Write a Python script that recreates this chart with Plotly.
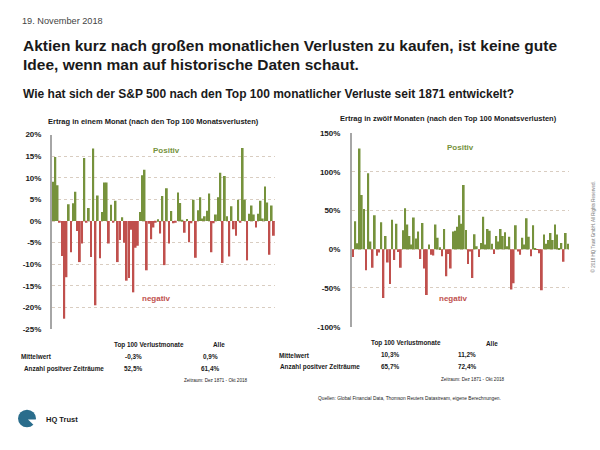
import plotly.graph_objects as go

# ---------------- data ----------------
monthly_returns = [
    9.1, 14.8, 8.3, -0.3, -8.1, -22.6, -13.0, 3.9, -7.2, 4.1,
    6.8, -2.3, -9.5, -5.2, 14.6, -0.2, 3.0, -8.3, 16.8, -19.5,
    5.9, -8.6, 2.1, 8.9, 8.9, -5.2, 3.8, -0.2, 4.7, -9.5,
    -4.4, 0.9, -5.0, -13.8, -13.2, -2.0, -16.5, -6.2, -5.7, 2.1,
    10.6, 11.9, -11.4, -0.6, -4.2, -1.5, -0.3, 0.4, -2.9, 5.8,
    -10.2, 7.6, -5.2, 2.3, -0.5, -0.3, 6.6, 4.2, 0.3, -2.7,
    0.5, -4.9, -0.5, 4.9, -8.5, 2.5, 5.5, 0.6, 1.1, 2.4,
    6.4, -7.2, -0.5, 1.5, 5.5, 11.2, -9.7, 10.4, 1.1, -8.2,
    3.4, -1.9, -3.4, 4.9, -0.2, 16.9, 4.9, -9.1, 1.7, 3.6,
    1.5, -1.5, 1.7, 4.7, 0.6, 8.0, 4.3, -7.8, 3.6, -3.4,
]
annual_returns = [
    -10, 36, 7.6, 130, 70, 52, -27, 98, 10, -24,
    44, -8.5, -4.2, 35, -63, 17, -17, -45, 38, -14,
    33, -3.4, -24, 24.6, 53, 32, 17, 6, 41, 14,
    23, -12.7, 34, -25, -59, 6, -7, -8, 32, 15,
    2.5, -9, 26, -35, -6, -25, 23, 24, 29, 44,
    33, 83, 25, -19, -3, -37, 19.5, 4, -10, 8,
    42, 6, 26, 24, 7, -6, 17, 10, 26, 17,
    22, 4, 16, -52, -44, 31, -3, -7, 15, 6,
    40, 16, -9, 31, 1, -0.5, -5, -53, 19, 7,
    12, 21, 12, 32, 19, 1, 8, -16, 21, 7,
]
left_tickvals = [20, 15, 10, 5, 0, -5, -10, -15, -20, -25]
left_ticktext = ["20%", "15%", "10%", "5%", "0%", "-5%", "-10%", "-15%", "-20%", "-25%"]
right_tickvals = [150, 100, 50, 0, -50, -100]
right_ticktext = ["150%", "100%", "50%", "0%", "-50%", "-100%"]

table_header = ["Top 100 Verlustmonate", "Alle"]
row_labels = ["Mittelwert", "Anzahl positver Zeiträume"]
left_table = [["-0,3%", "0,9%"], ["52,5%", "61,4%"]]
right_table = [["10,3%", "11,2%"], ["65,7%", "72,4%"]]

GREEN = "#76923c"
RED = "#c0504d"
GRID = "#d9cdc1"
SANS = "Liberation Sans, Arial, Helvetica"

W, H = 600, 450


def px(x):
    return x / W


def py(y):
    return 1 - y / H


def colors(vals):
    return [GREEN if v >= 0 else RED for v in vals]


fig = go.Figure()
xs = list(range(1, 101))
fig.add_trace(go.Bar(x=xs, y=monthly_returns, marker=dict(color=colors(monthly_returns), line=dict(width=0)),
                     xaxis="x", yaxis="y", showlegend=False, hoverinfo="y"))
fig.add_trace(go.Bar(x=xs, y=annual_returns, marker=dict(color=colors(annual_returns), line=dict(width=0)),
                     xaxis="x2", yaxis="y2", showlegend=False, hoverinfo="y"))

xaxis_common = dict(range=[0.5, 100.5], showticklabels=False, showgrid=False, zeroline=False,
                    showline=False, ticks="", fixedrange=True)
yaxis_common = dict(showgrid=True, gridcolor=GRID, griddash="dot", gridwidth=1, zeroline=False,
                    showline=True, linecolor="#a6a6a6", linewidth=2, ticks="",
                    tickfont=dict(family=SANS, size=8, color="#1a1a1a"), fixedrange=True)

fig.update_layout(
    width=W, height=H, margin=dict(l=0, r=0, t=0, b=0),
    paper_bgcolor="white", plot_bgcolor="white", bargap=0.18,
    xaxis=dict(domain=[px(52), px(275)], anchor="y", **xaxis_common),
    yaxis=dict(domain=[py(331.7), py(133.3)], anchor="x", range=[-25, 20],
               tickvals=left_tickvals, ticktext=[f"<b>{t}</b>" for t in left_ticktext],
               ticklabelstandoff=7, **yaxis_common),
    xaxis2=dict(domain=[px(352), px(569)], anchor="y2", **xaxis_common),
    yaxis2=dict(domain=[py(329.3), py(131.7)], anchor="x2", range=[-100, 150],
                tickvals=right_tickvals, ticktext=[f"<b>{t}</b>" for t in right_ticktext],
                ticklabelstandoff=8, **yaxis_common),
)

anns = []


def ann(text, x, y, size, color="#1a1a1a", family=SANS, bold=False, xanchor="left", angle=0):
    t = f"<b>{text}</b>" if bold else text
    anns.append(dict(text=t, x=px(x), y=py(y), xref="paper", yref="paper", showarrow=False,
                     xanchor=xanchor, yanchor="middle", textangle=angle,
                     font=dict(family=family, size=size, color=color)))


ann("19. November 2018", 20, 17, 9.2, color="#444444")
ann("Aktien kurz nach großen monatlichen Verlusten zu kaufen, ist keine gute", 21, 42, 15.5, bold=True)
ann("Idee, wenn man auf historische Daten schaut.", 21, 62, 15.5, bold=True)
ann("Wie hat sich der S&P 500 nach den Top 100 monatlicher Verluste seit 1871 entwickelt?", 21, 92, 12, bold=True)

ann("Ertrag in einem Monat (nach den Top 100 Monatsverlusten)", 153, 120, 7.5, bold=True, xanchor="center")
ann("Ertrag in zwölf Monaten (nach den Top 100 Monatsverlusten)", 448, 117, 7.5, bold=True, xanchor="center")

ann("Positiv", 166, 149, 8, color=GREEN, bold=True, xanchor="center")
ann("negativ", 156, 301, 8, color=RED, bold=True, xanchor="center")
ann("Positiv", 460, 146, 8, color=GREEN, bold=True, xanchor="center")
ann("negativ", 453, 300, 8, color=RED, bold=True, xanchor="center")

# tables
TS = 6.4
ann(table_header[0], 148.5, 347.5, TS, bold=True, xanchor="center")
ann(table_header[1], 219, 347.5, TS, bold=True, xanchor="center")
ann(row_labels[0], 19, 360, TS, bold=True)
ann(row_labels[1], 21.5, 372.5, TS, bold=True)
for r, yy in enumerate([360, 372.5]):
    ann(left_table[r][0], 133, yy, TS, bold=True, xanchor="center")
    ann(left_table[r][1], 210, yy, TS, bold=True, xanchor="center")
ann("Zeitraum: Dez 1871 - Okt 2018", 216, 384, 4.6, xanchor="center")

ann(table_header[0], 405.7, 346, TS, bold=True, xanchor="center")
ann(table_header[1], 492, 346, TS, bold=True, xanchor="center")
ann(row_labels[0], 276.5, 358.5, TS, bold=True)
ann(row_labels[1], 278.3, 370.5, TS, bold=True)
for r, yy in enumerate([358.5, 370.5]):
    ann(right_table[r][0], 390, yy, TS, bold=True, xanchor="center")
    ann(right_table[r][1], 466.5, yy, TS, bold=True, xanchor="center")
ann("Zeitraum: Dez 1871 - Okt 2018", 473, 383.5, 4.6, xanchor="center")

ann("Quellen: Global Financial Data, Thomson Reuters Datastream, eigene Berechnungen.", 503.5, 403, 4.8,
    xanchor="right")
ann("HQ Trust", 44, 423.5, 7.5, bold=True)
ann("© 2018 HQ Trust GmbH. All Rights Reserved.", 593, 228, 4.5, color="#777777", xanchor="center", angle=-90)

fig.update_layout(annotations=anns)

# logo
fig.add_shape(type="circle", xref="paper", yref="paper", x0=px(18), x1=px(36), y0=py(432), y1=py(414),
              fillcolor="#2a6d8c", line=dict(width=0))
fig.add_shape(type="path", xref="paper", yref="paper",
              path=f"M {px(28)} {py(424)} L {px(37)} {py(433)} L {px(37)} {py(424)} Z",
              fillcolor="white", line=dict(width=0))

fig.write_html("out.html")
